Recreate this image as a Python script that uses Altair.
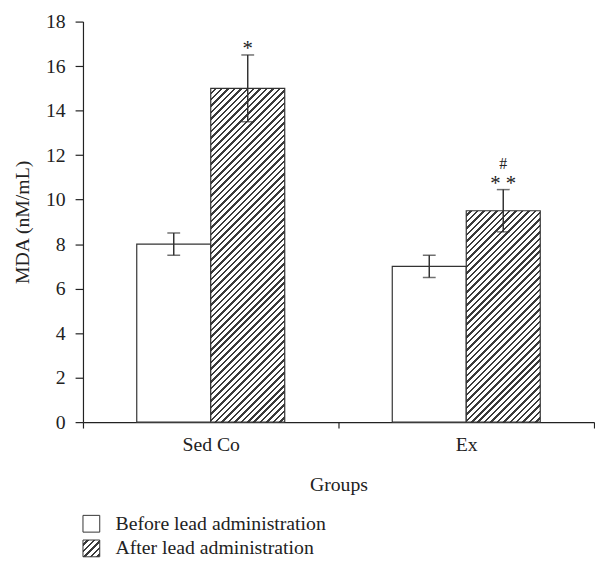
import altair as alt
import pandas as pd

# ---- data ----
groups = ["Sed Co", "Sed Co", "Ex", "Ex"]
series = ["Before lead administration", "After lead administration",
          "Before lead administration", "After lead administration"]
means = [8.0, 15.0, 7.0, 9.5]
errors = [0.5, 1.5, 0.5, 0.95]
star_marks = ["", "*", "", "* *"]
hash_marks = ["", "", "", "#"]
group_order = ["Sed Co", "Ex"]
series_order = ["Before lead administration", "After lead administration"]
y_ticks = [0, 2, 4, 6, 8, 10, 12, 14, 16, 18]

# ---- layout / style ----
W, H = 518, 406
YMAX = 18
BAR_W = 75
FONT = "Liberation Serif"
FS = 20
INK = "#222222"
DARK = "#333333"

band = W / len(group_order)
pad_outer = (band / BAR_W - 2) / 2


def hatch(w, h, period=6.5, dark="#3a3a3a", light="#ffffff", dark_frac=0.38):
    """Diagonal (///) stripes built as a hard-stop linear gradient."""
    total = w + h
    n = total / period
    s = total / (w * w + h * h)
    stops = []
    k = 0
    while k < n:
        t0 = k / n
        tm = min((k + 1 - dark_frac) / n, 1.0)
        t1 = min((k + 1) / n, 1.0)
        stops += [(t0, light), (tm, light), (tm, dark), (t1, dark)]
        k += 1
    return {
        "gradient": "linear",
        "x1": 0, "y1": 0,
        "x2": round(w * s, 6), "y2": round(h * s, 6),
        "stops": [{"offset": round(o, 6), "color": c} for o, c in stops],
    }


df = pd.DataFrame({
    "group": groups,
    "series": series,
    "mean": means,
    "lo": [m - e for m, e in zip(means, errors)],
    "hi": [m + e for m, e in zip(means, errors)],
    "star": star_marks,
    "hash": hash_marks,
})

x_enc = alt.X(
    "group:N",
    sort=group_order,
    scale=alt.Scale(domain=group_order, paddingInner=0, paddingOuter=0),
    axis=alt.Axis(
        title="Groups", labelAngle=0, tickBand="extent", tickSize=6,
        labelPadding=7, titlePadding=20,
    ),
)
xo_enc = alt.XOffset(
    "series:N",
    scale=alt.Scale(domain=series_order, paddingInner=0, paddingOuter=pad_outer),
)
y_axis = alt.Axis(title="MDA (nM/mL)", values=y_ticks, tickSize=8,
                  labelPadding=10, titlePadding=13, grid=False)
y_scale = alt.Scale(domain=[0, YMAX], nice=False)

base = alt.Chart(df)

before_bars = base.transform_filter(
    alt.datum.series == series_order[0]
).mark_bar(fill="white", stroke=DARK, strokeWidth=1.2).encode(
    x=x_enc, xOffset=xo_enc,
    y=alt.Y("mean:Q", scale=y_scale, axis=y_axis),
)

after_layers = []
for g in group_order:
    row = df[(df.group == g) & (df.series == series_order[1])].iloc[0]
    h_px = row["mean"] * H / YMAX
    after_layers.append(
        base.transform_filter(
            (alt.datum.series == series_order[1]) & (alt.datum.group == g)
        ).mark_bar(fill=hatch(BAR_W, h_px), stroke=DARK, strokeWidth=1.2).encode(
            x=x_enc, xOffset=xo_enc, y=alt.Y("mean:Q", scale=y_scale, axis=y_axis)
        )
    )

err_rule = base.mark_rule(color=DARK, strokeWidth=1.5).encode(
    x=x_enc, xOffset=xo_enc, y="lo:Q", y2="hi:Q"
)
cap_hi = base.mark_tick(orient="horizontal", size=13, thickness=1.5, color=DARK).encode(
    x=x_enc, xOffset=xo_enc, y="hi:Q"
)
cap_lo = base.mark_tick(orient="horizontal", size=13, thickness=1.5, color=DARK).encode(
    x=x_enc, xOffset=xo_enc, y="lo:Q"
)

star_text = base.mark_text(font=FONT, fontSize=21, color=INK, baseline="middle", dy=-6).encode(
    x=x_enc, xOffset=xo_enc, y="hi:Q", text="star:N"
)
hash_text = base.mark_text(font=FONT, fontSize=16, color=INK, baseline="middle", dy=-26).encode(
    x=x_enc, xOffset=xo_enc, y="hi:Q", text="hash:N"
)

# ---- legend (below the axis title, left aligned with the y axis) ----
leg_df = pd.DataFrame({"label": series_order})
LEG_Y = [509, 534]
SQ = 17
legend_layers = []
fills = ["white", hatch(SQ, SQ)]
for i, lab in enumerate(series_order):
    ld = alt.Chart(leg_df).transform_filter(alt.datum.label == lab)
    legend_layers.append(
        ld.mark_rect(fill=fills[i], stroke=DARK, strokeWidth=1).encode(
            x=alt.value(0), x2=alt.value(SQ),
            y=alt.value(LEG_Y[i] - SQ / 2), y2=alt.value(LEG_Y[i] + SQ / 2),
        )
    )
    legend_layers.append(
        ld.mark_text(font=FONT, fontSize=FS, color=INK, align="left", baseline="middle").encode(
            x=alt.value(33), y=alt.value(LEG_Y[i]), text="label:N"
        )
    )

chart = alt.layer(
    before_bars, *after_layers, err_rule, cap_hi, cap_lo, star_text, hash_text,
    *legend_layers,
).properties(
    width=W, height=H,
    background="white",
    autosize=alt.AutoSizeParams(type="none"),
    padding={"left": 76, "top": 10, "right": 1, "bottom": 138},
).configure_view(
    stroke=None
).configure_axis(
    labelFont=FONT, titleFont=FONT, labelFontSize=FS, titleFontSize=FS,
    labelColor=INK, titleColor=INK, titleFontWeight="normal",
    domainColor=INK, tickColor=INK, domainWidth=1.2, tickWidth=1.2,
)

chart.save("out.html", embed_options={"renderer": "svg", "actions": False})
